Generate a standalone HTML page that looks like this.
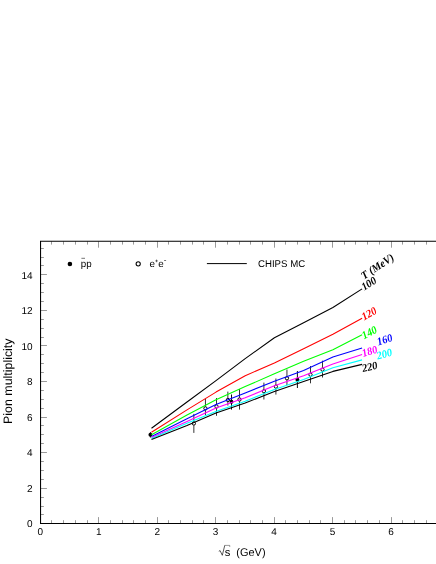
<!DOCTYPE html><html><head><meta charset="utf-8"><style>html,body{margin:0;padding:0;background:#fff}svg{display:block;will-change:transform}text{text-rendering:geometricPrecision}text{font-family:"Liberation Sans",sans-serif;fill:#000}.s{font-family:"Liberation Serif",serif;font-weight:bold;font-style:italic}</style></head><body>
<svg width="436" height="564" viewBox="0 0 436 564">
<rect width="436" height="564" fill="#fff"/>
<path d="M40.50 523.50v-6.4M40.50 241.30v6.4M51.50 523.50v-3.3M51.50 241.30v3.3M63.50 523.50v-3.3M63.50 241.30v3.3M75.50 523.50v-3.3M75.50 241.30v3.3M87.50 523.50v-3.3M87.50 241.30v3.3M98.50 523.50v-6.4M98.50 241.30v6.4M110.50 523.50v-3.3M110.50 241.30v3.3M122.50 523.50v-3.3M122.50 241.30v3.3M133.50 523.50v-3.3M133.50 241.30v3.3M145.50 523.50v-3.3M145.50 241.30v3.3M157.50 523.50v-6.4M157.50 241.30v6.4M168.50 523.50v-3.3M168.50 241.30v3.3M180.50 523.50v-3.3M180.50 241.30v3.3M192.50 523.50v-3.3M192.50 241.30v3.3M203.50 523.50v-3.3M203.50 241.30v3.3M215.50 523.50v-6.4M215.50 241.30v6.4M227.50 523.50v-3.3M227.50 241.30v3.3M239.50 523.50v-3.3M239.50 241.30v3.3M250.50 523.50v-3.3M250.50 241.30v3.3M262.50 523.50v-3.3M262.50 241.30v3.3M274.50 523.50v-6.4M274.50 241.30v6.4M285.50 523.50v-3.3M285.50 241.30v3.3M297.50 523.50v-3.3M297.50 241.30v3.3M309.50 523.50v-3.3M309.50 241.30v3.3M320.50 523.50v-3.3M320.50 241.30v3.3M332.50 523.50v-6.4M332.50 241.30v6.4M344.50 523.50v-3.3M344.50 241.30v3.3M355.50 523.50v-3.3M355.50 241.30v3.3M367.50 523.50v-3.3M367.50 241.30v3.3M379.50 523.50v-3.3M379.50 241.30v3.3M391.50 523.50v-6.4M391.50 241.30v6.4M402.50 523.50v-3.3M402.50 241.30v3.3M414.50 523.50v-3.3M414.50 241.30v3.3M426.50 523.50v-3.3M426.50 241.30v3.3M40.55 523.50h6.4M40.55 514.50h3.3M40.55 506.50h3.3M40.55 497.50h3.3M40.55 488.50h6.4M40.55 479.50h3.3M40.55 470.50h3.3M40.55 461.50h3.3M40.55 452.50h6.4M40.55 443.50h3.3M40.55 434.50h3.3M40.55 425.50h3.3M40.55 417.50h6.4M40.55 408.50h3.3M40.55 399.50h3.3M40.55 390.50h3.3M40.55 381.50h6.4M40.55 372.50h3.3M40.55 363.50h3.3M40.55 354.50h3.3M40.55 345.50h6.4M40.55 337.50h3.3M40.55 328.50h3.3M40.55 319.50h3.3M40.55 310.50h6.4M40.55 301.50h3.3M40.55 292.50h3.3M40.55 283.50h3.3M40.55 274.50h6.4M40.55 265.50h3.3M40.55 257.50h3.3M40.55 248.50h3.3" stroke="#000" stroke-width="0.4" fill="none"/>
<path d="M438 241.30H40.55V523.50H438" stroke="#000" stroke-width="1.05" fill="none" stroke-linejoin="miter"/>
<text x="40.25" y="535.1" font-size="10.0" text-anchor="middle">0</text>
<text x="98.71" y="535.1" font-size="10.0" text-anchor="middle">1</text>
<text x="157.17" y="535.1" font-size="10.0" text-anchor="middle">2</text>
<text x="215.63" y="535.1" font-size="10.0" text-anchor="middle">3</text>
<text x="274.09" y="535.1" font-size="10.0" text-anchor="middle">4</text>
<text x="332.55" y="535.1" font-size="10.0" text-anchor="middle">5</text>
<text x="391.01" y="535.1" font-size="10.0" text-anchor="middle">6</text>
<text x="32.6" y="527.30" font-size="10.0" text-anchor="end">0</text>
<text x="32.6" y="491.80" font-size="10.0" text-anchor="end">2</text>
<text x="32.6" y="456.30" font-size="10.0" text-anchor="end">4</text>
<text x="32.6" y="420.80" font-size="10.0" text-anchor="end">6</text>
<text x="32.6" y="385.30" font-size="10.0" text-anchor="end">8</text>
<text x="32.6" y="349.80" font-size="10.0" text-anchor="end">10</text>
<text x="32.6" y="314.30" font-size="10.0" text-anchor="end">12</text>
<text x="32.6" y="278.80" font-size="10.0" text-anchor="end">14</text>
<text transform="translate(11.9,423.9) rotate(-90)" font-size="12.2" textLength="85.4" lengthAdjust="spacingAndGlyphs">Pion multiplicity</text>
<path d="M218.8 551.3l1.3 -0.7l2.2 4.7l2.45 -9.9" stroke="#000" stroke-width="0.65" fill="none"/><path d="M224.6 545.4h5.15v1.6" stroke="#000" stroke-width="0.4" fill="none"/>
<text x="224.7" y="555.8" font-size="11.2">s</text>
<text x="236.3" y="555.8" font-size="11.2" textLength="29.3" lengthAdjust="spacingAndGlyphs">(GeV)</text>
<circle cx="69.9" cy="264.0" r="2.3" fill="#000"/>
<text x="80.7" y="267.0" font-size="9.8">pp</text>
<path d="M81.4 258.3h3.6" stroke="#000" stroke-width="0.55"/>
<circle cx="138.2" cy="263.8" r="2.1" fill="none" stroke="#000" stroke-width="1.05"/>
<text x="149.6" y="266.7" font-size="9.8">e</text>
<path d="M155.3 260.9h2.5M156.55 259.6v2.6M164.1 260.5h2" stroke="#000" stroke-width="0.55" fill="none"/>
<text x="158.3" y="266.7" font-size="9.8">e</text>
<path d="M206.9 263.6H246.8" stroke="#000" stroke-width="1"/>
<text x="258.0" y="267.1" font-size="9.8" textLength="47.2" lengthAdjust="spacingAndGlyphs">CHIPS MC</text>
<path d="M150.4 432.1V437.5" stroke="#000" stroke-width="0.95"/>
<circle cx="150.4" cy="434.8" r="1.95" fill="#000"/>
<path d="M193.85 413.9V421.60M193.85 425.40V432.9" stroke="#000" stroke-width="0.8"/>
<circle cx="193.85" cy="423.5" r="1.65" fill="none" stroke="#000" stroke-width="1.0"/>
<path d="M205.45 398.8V406.50M205.45 410.30V415.2" stroke="#000" stroke-width="0.8"/>
<circle cx="205.45" cy="408.4" r="1.65" fill="none" stroke="#000" stroke-width="1.0"/>
<path d="M216.5 398.0V404.60M216.5 408.40V415.8" stroke="#000" stroke-width="0.8"/>
<circle cx="216.5" cy="406.5" r="1.65" fill="none" stroke="#000" stroke-width="1.0"/>
<path d="M227.85 391.6V398.10M227.85 401.90V405.5" stroke="#000" stroke-width="0.8"/>
<circle cx="227.85" cy="400.0" r="1.65" fill="none" stroke="#000" stroke-width="1.0"/>
<path d="M231.5 394.5V409.6" stroke="#000" stroke-width="0.95"/>
<circle cx="231.5" cy="401.7" r="1.95" fill="#000"/>
<path d="M239.5 389.1V397.60M239.5 401.40V409.6" stroke="#000" stroke-width="0.8"/>
<circle cx="239.5" cy="399.5" r="1.65" fill="none" stroke="#000" stroke-width="1.0"/>
<path d="M263.9 382.6V389.30M263.9 393.10V399.5" stroke="#000" stroke-width="0.8"/>
<circle cx="263.9" cy="391.2" r="1.65" fill="none" stroke="#000" stroke-width="1.0"/>
<path d="M275.9 378.5V384.70M275.9 388.50V394.6" stroke="#000" stroke-width="0.8"/>
<circle cx="275.9" cy="386.6" r="1.65" fill="none" stroke="#000" stroke-width="1.0"/>
<path d="M286.95 369.5V376.40M286.95 380.20V385.0" stroke="#000" stroke-width="0.8"/>
<circle cx="286.95" cy="378.3" r="1.65" fill="none" stroke="#000" stroke-width="1.0"/>
<path d="M297.4 371.0V388.0" stroke="#000" stroke-width="0.95"/>
<circle cx="297.4" cy="379.7" r="1.95" fill="#000"/>
<path d="M310.5 366.0V372.80M310.5 376.60V383.3" stroke="#000" stroke-width="0.8"/>
<circle cx="310.5" cy="374.7" r="1.65" fill="none" stroke="#000" stroke-width="1.0"/>
<path d="M322.5 360.7V367.70M322.5 371.50V377.5" stroke="#000" stroke-width="0.8"/>
<circle cx="322.5" cy="369.6" r="1.65" fill="none" stroke="#000" stroke-width="1.0"/>
<path d="M151.5 428.2 L187.0 402.0 L216.0 380.6 L245.2 358.6 L274.4 337.7 L303.6 322.7 L332.9 307.5 L362.1 288.9" stroke="#000" stroke-width="1.1" fill="none" stroke-linejoin="round"/>
<text class="s" transform="translate(364.2,290.8) rotate(-32.5)" font-size="11" textLength="15.6" lengthAdjust="spacingAndGlyphs" style="fill:#000">100</text>
<path d="M151.5 432.3 L187.0 409.9 L216.0 392.1 L245.2 375.7 L274.4 363.0 L303.6 348.8 L332.9 334.2 L362.1 318.3" stroke="#f00" stroke-width="1.1" fill="none" stroke-linejoin="round"/>
<text class="s" transform="translate(363.9,320.6) rotate(-28.6)" font-size="11" textLength="15.6" lengthAdjust="spacingAndGlyphs" style="fill:#f00">120</text>
<path d="M151.5 434.7 L187.0 414.9 L216.0 399.7 L245.2 386.6 L274.4 373.8 L303.6 361.2 L332.9 349.7 L362.1 334.8" stroke="#0f0" stroke-width="1.1" fill="none" stroke-linejoin="round"/>
<text class="s" transform="translate(364.0,339.2) rotate(-27.0)" font-size="11" textLength="15.6" lengthAdjust="spacingAndGlyphs" style="fill:#0f0">140</text>
<path d="M151.5 436.5 L187.0 418.8 L216.0 404.5 L245.2 393.0 L274.4 381.2 L303.6 370.6 L332.9 357.0 L362.1 348.0" stroke="#00f" stroke-width="1.1" fill="none" stroke-linejoin="round"/>
<text class="s" transform="translate(378.2,345.4) rotate(-17.1)" font-size="11" textLength="15.6" lengthAdjust="spacingAndGlyphs" style="fill:#00f">160</text>
<path d="M151.5 437.6 L187.0 421.4 L216.0 408.0 L245.2 397.8 L274.4 385.7 L303.6 375.7 L332.9 364.0 L362.1 354.5" stroke="#f0f" stroke-width="1.1" fill="none" stroke-linejoin="round"/>
<text class="s" transform="translate(363.3,357.1) rotate(-18.0)" font-size="11" textLength="15.6" lengthAdjust="spacingAndGlyphs" style="fill:#f0f">180</text>
<path d="M151.5 438.5 L187.0 423.2 L216.0 411.4 L245.2 401.2 L274.4 389.4 L303.6 379.5 L332.9 367.8 L362.1 359.9" stroke="#0ff" stroke-width="1.1" fill="none" stroke-linejoin="round"/>
<text class="s" transform="translate(377.8,359.5) rotate(-15.1)" font-size="11" textLength="15.6" lengthAdjust="spacingAndGlyphs" style="fill:#0ff">200</text>
<path d="M151.5 439.5 L187.0 425.4 L216.0 413.1 L245.2 403.0 L274.4 391.5 L303.6 381.6 L332.9 371.4 L362.1 364.4" stroke="#000" stroke-width="1.1" fill="none" stroke-linejoin="round"/>
<text class="s" transform="translate(363.0,372.1) rotate(-13.5)" font-size="11" textLength="15.6" lengthAdjust="spacingAndGlyphs" style="fill:#000">220</text>
<text class="s" transform="translate(364.1,279.7) rotate(-33.6)" font-size="11" textLength="36.9" lengthAdjust="spacingAndGlyphs">T (MeV)</text>
</svg></body></html>
